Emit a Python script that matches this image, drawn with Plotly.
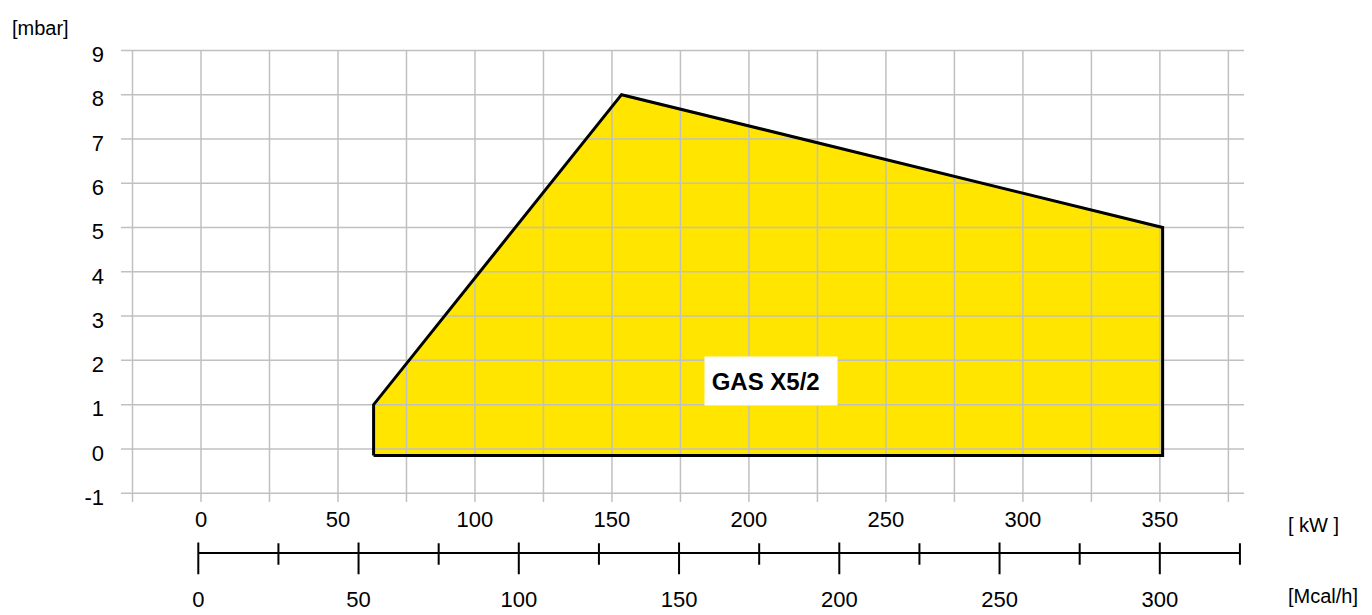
import plotly.graph_objects as go

# ---- data ----
kw_tick_vals = [0, 50, 100, 150, 200, 250, 300, 350]
mbar_tick_vals = [-1, 0, 1, 2, 3, 4, 5, 6, 7, 8, 9]
mbar_tick_text = ["-1", "0", "1", "2", "3", "4", "5", "6", "7", "8", "9"]
kw_grid = [-25, 0, 25, 50, 75, 100, 125, 150, 175, 200, 225, 250, 275, 300, 325, 350, 375]
mcal_major = [0, 50, 100, 150, 200, 250, 300]
mcal_minor = [25, 75, 125, 175, 225, 275, 325]
area_kw = [63, 63, 153.5, 351, 351, 63]
area_mbar = [-0.15, 1, 8, 5, -0.15, -0.15]
area_label = "GAS X5/2"
label_pos = (208.2, 1.545)

# ---- geometry ----
W, H = 1372, 615
X_RANGE = [-29.2, 380.7]
Y_RANGE = [-1.2, 9.1]
X2_RANGE = [-24.12, 326.27]
Y2_RANGE = [-25, 15]
FONT = "Liberation Sans, Arial, sans-serif"
GRID_C = "#c0c0c0"

def fx(px):
    return px / W

def fy(py):
    return 1 - py / H

fig = go.Figure()

# yellow fill (no outline)
fig.add_trace(go.Scatter(x=area_kw, y=area_mbar, fill="toself", fillcolor="#FFE500",
                         mode="lines", line=dict(width=0, color="rgba(0,0,0,0)"),
                         hoverinfo="skip"))

# grid lines drawn above the fill
gx, gy = [], []
for v in kw_grid:
    gx += [v, v, None]
    gy += [Y_RANGE[0], 9, None]
for h in mbar_tick_vals:
    gx += [X_RANGE[0], X_RANGE[1], None]
    gy += [h, h, None]
fig.add_trace(go.Scatter(x=gx, y=gy, mode="lines", line=dict(color=GRID_C, width=1.5),
                         hoverinfo="skip"))

# outline
fig.add_trace(go.Scatter(x=area_kw, y=area_mbar, mode="lines",
                         line=dict(color="black", width=3), hoverinfo="skip"))

# Mcal/h scale
sx, sy = [mcal_major[0], mcal_minor[-1], None], [0, 0, None]
for v in mcal_minor:
    sx += [v, v, None]
    sy += [10, -12, None]
for v in mcal_major:
    sx += [v, v, None]
    sy += [10.7, -21.7, None]
fig.add_trace(go.Scatter(x=sx, y=sy, mode="lines", line=dict(color="black", width=2),
                         xaxis="x2", yaxis="y2", hoverinfo="skip"))

fig.update_layout(
    width=W, height=H,
    margin=dict(l=0, r=0, t=0, b=0),
    paper_bgcolor="white", plot_bgcolor="white",
    showlegend=False, hovermode=False,
    font=dict(family=FONT, color="black", size=22),
    xaxis=dict(domain=[fx(121), fx(1244)], range=X_RANGE, showgrid=False, zeroline=False,
               showline=False, ticks="", tickvals=kw_tick_vals, ticklabelstandoff=2,
               tickfont=dict(size=22, family=FONT), anchor="y", fixedrange=True),
    yaxis=dict(domain=[fy(508.0), fy(42.8)], range=Y_RANGE, showgrid=False, zeroline=False,
               showline=False, ticks="", tickvals=mbar_tick_vals, ticktext=mbar_tick_text,
               ticklabelstandoff=16, ticklabelshift=4,
               tickfont=dict(size=22, family=FONT), anchor="x", fixedrange=True),
    xaxis2=dict(domain=[fx(121), fx(1244)], range=X2_RANGE, showgrid=False, zeroline=False,
                showline=False, ticks="", tickvals=mcal_major, ticklabelstandoff=6,
                tickfont=dict(size=22, family=FONT), anchor="y2", fixedrange=True),
    yaxis2=dict(domain=[fy(585), fy(545)], range=Y2_RANGE, showgrid=False, zeroline=False,
                showline=False, showticklabels=False, ticks="", anchor="x2",
                fixedrange=True),
)

fig.add_annotation(x=label_pos[0], y=label_pos[1], xref="x", yref="y",
                   text="&nbsp;<b>" + area_label + "</b>", showarrow=False, align="left",
                   bgcolor="white", width=132, height=48, borderpad=0,
                   font=dict(size=24, family=FONT, color="black"))

fig.add_annotation(x=fx(10), y=fy(24), xref="paper", yref="paper", text="[mbar]",
                   showarrow=False, xanchor="left", yanchor="middle",
                   font=dict(size=20, family=FONT, color="black"))
fig.add_annotation(x=fx(1286), y=fy(531), xref="paper", yref="paper", text="[ kW ]",
                   showarrow=False, xanchor="left", yanchor="middle",
                   font=dict(size=20, family=FONT, color="black"))
fig.add_annotation(x=fx(1286), y=fy(604), xref="paper", yref="paper", text="[Mcal/h]",
                   showarrow=False, xanchor="left", yanchor="middle",
                   font=dict(size=20, family=FONT, color="black"))

fig.write_html(
    "out.html",
    config={"displayModeBar": False},
    post_script="document.body.style.margin='0';document.body.style.overflow='hidden';",
)
